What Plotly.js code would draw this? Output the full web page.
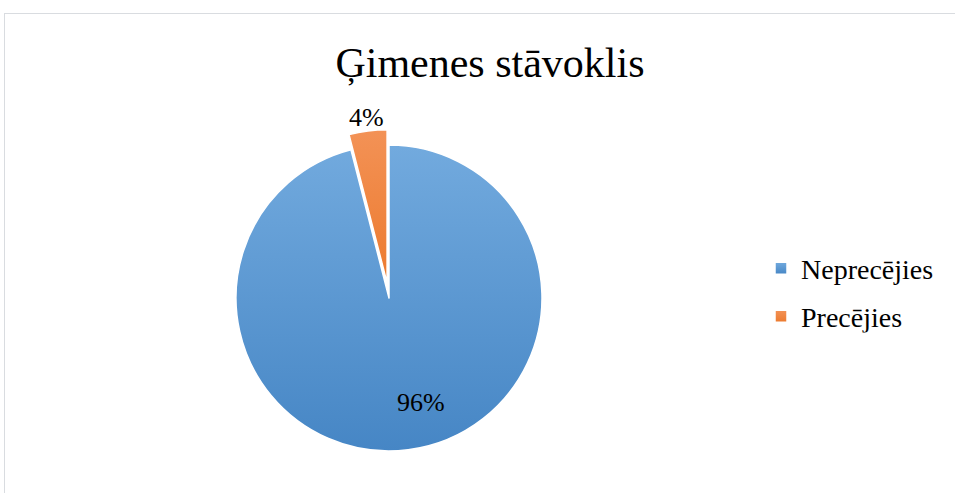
<!DOCTYPE html>
<html>
<head>
<meta charset="utf-8">
<script src="https://cdn.plot.ly/plotly-3.0.1.min.js"></script>
<style>
  html, body { margin: 0; padding: 0; background: #ffffff; overflow: hidden; }
  #frame { position: absolute; left: 4px; top: 13px; width: 960px; height: 490px; border: 1px solid #d9dce0; background: #fff; }
  #chart { position: absolute; left: 0; top: 0; width: 955px; height: 480px; }
</style>
</head>
<body>
<div id="frame"><div id="chart"></div></div>
<script>
const categories = ["Neprecējies", "Precējies"];
const values = [96, 4];
const colors = ["#5b9bd5", "#ed7d31"];
const gradients = [["#72aade", "#4686c5"], ["#f39256", "#ec7a2e"]];
const pulls = [0, 0.1];
const titleText = "Ģimenes stāvoklis";

const FONT = "Liberation Serif";
const W = 955, H = 480;
const cx = 384, cy = 284, R = 153, maxPull = 0.1;
const half = R * (1 + maxPull);

const total = values.reduce((a, b) => a + b, 0);
const pctText = values.map(v => Math.round(v / total * 100) + "%");
// label anchor positions (chart px) for the percentage labels
const labelPos = [[416, 388], [361, 103]];

const trace = {
  type: "pie",
  labels: categories,
  values: values,
  sort: false,
  direction: "clockwise",
  rotation: 0,
  pull: pulls,
  marker: { colors: colors, line: { color: "#ffffff", width: 1.5 } },
  textinfo: "none",
  textposition: "none",
  hoverinfo: "label+percent",
  domain: { x: [(cx - half) / W, (cx + half) / W], y: [(H - cy - half) / H, (H - cy + half) / H] }
};

const annotations = pctText.map((t, i) => ({
  text: t,
  xref: "paper", yref: "paper",
  x: labelPos[i][0] / W, y: 1 - labelPos[i][1] / H,
  xanchor: "center", yanchor: "middle",
  showarrow: false,
  font: { family: FONT, size: 26, color: "#000000" }
}));

const layout = {
  width: W, height: H,
  margin: { l: 0, r: 0, t: 0, b: 0 },
  paper_bgcolor: "#ffffff",
  font: { family: FONT, color: "#000000" },
  title: {
    text: titleText,
    font: { family: FONT, size: 42, color: "#000000" },
    x: 485 / W, xanchor: "center", xref: "paper",
    y: 1 - 48 / H, yanchor: "middle", yref: "container"
  },
  showlegend: true,
  legend: {
    x: 756 / W, xanchor: "left",
    y: 1 - 274 / H, yanchor: "middle",
    font: { family: FONT, size: 28, color: "#000000" },
    bgcolor: "rgba(0,0,0,0)"
  },
  annotations: annotations
};

Plotly.newPlot("chart", [trace], layout, { staticPlot: true, displayModeBar: false }).then(gd => {
  const svg = gd.querySelector("svg.main-svg");
  const NS = "http://www.w3.org/2000/svg";
  let defs = svg.querySelector("defs");
  if (!defs) { defs = document.createElementNS(NS, "defs"); svg.insertBefore(defs, svg.firstChild); }
  gradients.forEach((g, i) => {
    const lg = document.createElementNS(NS, "linearGradient");
    lg.setAttribute("id", "sliceGrad" + i);
    lg.setAttribute("x1", "0"); lg.setAttribute("y1", "0");
    lg.setAttribute("x2", "0"); lg.setAttribute("y2", "1");
    [[0, g[0]], [1, g[1]]].forEach(([o, c]) => {
      const st = document.createElementNS(NS, "stop");
      st.setAttribute("offset", o);
      st.setAttribute("stop-color", c);
      lg.appendChild(st);
    });
    defs.appendChild(lg);
  });
  gd.querySelectorAll("g.slice path.surface").forEach((p, i) => {
    p.style.fill = "url(#sliceGrad" + i + ")";
  });
  gd.querySelectorAll("g.legend g.legendpoints path").forEach((p, i) => {
    p.style.fill = "url(#sliceGrad" + i + ")";
  });
  // widen legend row spacing
  const items = gd.querySelectorAll("g.legend g.traces");
  if (items.length > 1) {
    const m = /translate\(\s*([-\d.]+)[ ,]+([-\d.]+)\s*\)/.exec(items[0].getAttribute("transform") || "");
    if (m) {
      const x0 = parseFloat(m[1]), y0 = parseFloat(m[2]);
      items.forEach((it, i) => it.setAttribute("transform", "translate(" + x0 + "," + (y0 + i * 48) + ")"));
    }
  }
});
</script>
</body>
</html>
